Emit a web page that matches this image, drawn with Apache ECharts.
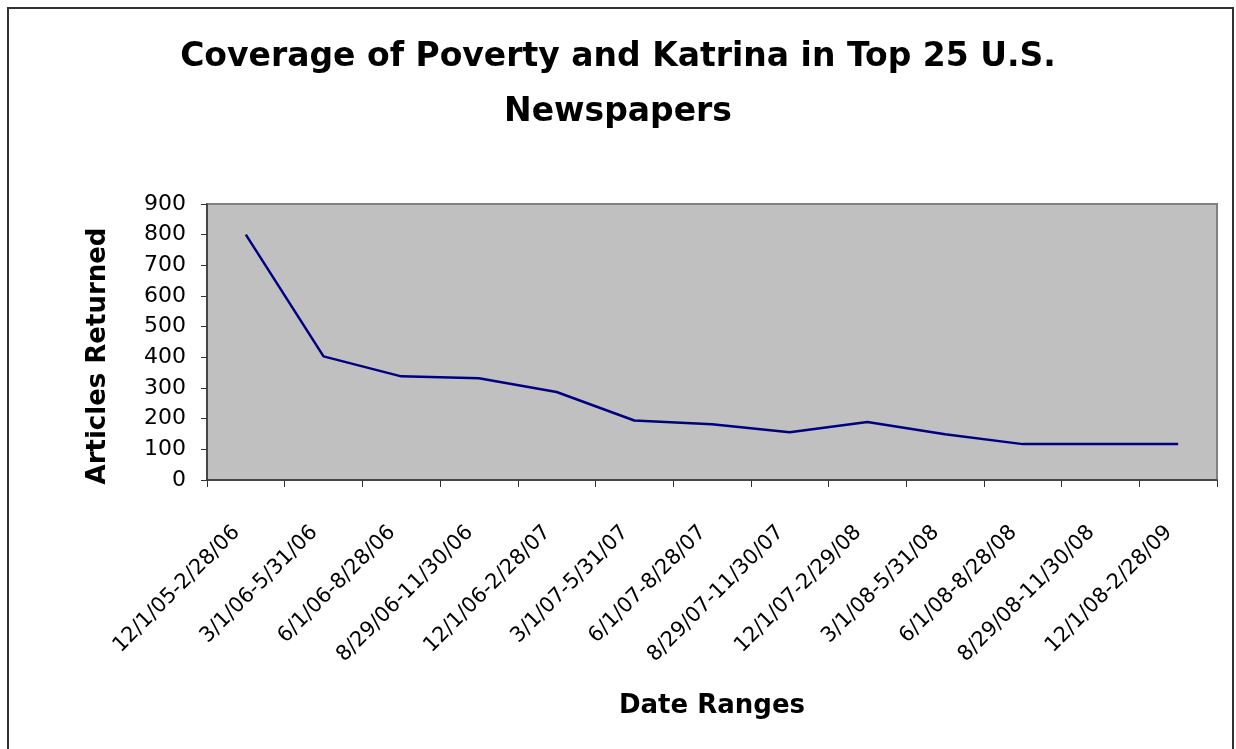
<!DOCTYPE html>
<html>
<head>
<meta charset="utf-8">
<script src="https://cdn.jsdelivr.net/npm/echarts@6/dist/echarts.min.js"></script>
<style>
html,body{margin:0;padding:0;background:#fff;}
#chart{width:1236px;height:749px;}
</style>
</head>
<body>
<div id="chart"></div>
<script>
const titleText = 'Coverage of Poverty and Katrina in Top 25 U.S.\nNewspapers';
const categories = ['12/1/05-2/28/06','3/1/06-5/31/06','6/1/06-8/28/06','8/29/06-11/30/06','12/1/06-2/28/07','3/1/07-5/31/07','6/1/07-8/28/07','8/29/07-11/30/07','12/1/07-2/29/08','3/1/08-5/31/08','6/1/08-8/28/08','8/29/08-11/30/08','12/1/08-2/28/09'];
const articles = [800, 403, 338, 332, 287, 194, 182, 156, 189, 149, 117, 117, 117];
const yAxisName = 'Articles Returned';
const xAxisName = 'Date Ranges';

const chart = echarts.init(document.getElementById('chart'), null, {renderer:'canvas'});
const FONT = 'DejaVu Sans';
chart.setOption({
  animation:false,
  backgroundColor:'#fff',
  title:{
    text:titleText,
    left:'center',
    top:25,
    textStyle:{fontFamily:FONT,fontWeight:'bold',fontSize:33,lineHeight:55,color:'#000'}
  },
  graphic:[{
    type:'rect',
    shape:{x:8,y:8,width:1225,height:760},
    style:{fill:'none',stroke:'#333',lineWidth:2},
    silent:true
  }],
  grid:{
    left:207,right:19,top:204,bottom:269,
    show:true,backgroundColor:'#C0C0C0',borderColor:'#808080',borderWidth:2
  },
  xAxis:{
    type:'category',
    data:categories,
    boundaryGap:true,
    name:xAxisName,
    nameLocation:'middle',
    nameGap:213,
    nameTextStyle:{fontFamily:FONT,fontWeight:'bold',fontSize:26,color:'#000'},
    axisLine:{lineStyle:{color:'#333',width:1.5}},
    axisTick:{show:true,length:7,inside:false,alignWithLabel:false,lineStyle:{color:'#333'}},
    axisLabel:{rotate:45,interval:0,margin:40,padding:[0,13,0,0],fontFamily:FONT,fontSize:21,color:'#000'},
    splitLine:{show:false}
  },
  yAxis:{
    type:'value',
    min:0,max:900,interval:100,
    name:yAxisName,
    nameLocation:'middle',
    nameRotate:90,
    nameGap:96,
    nameTextStyle:{fontFamily:FONT,fontWeight:'bold',fontSize:26,color:'#000',padding:[0,28,0,0]},
    axisLine:{show:true,lineStyle:{color:'#333',width:1.5}},
    axisTick:{show:true,length:6,inside:false,lineStyle:{color:'#333'}},
    axisLabel:{margin:21,fontFamily:FONT,fontSize:22,color:'#000'},
    splitLine:{show:false}
  },
  series:[{
    type:'line',
    data:articles,
    symbol:'none',
    lineStyle:{color:'#000080',width:2.5},
    itemStyle:{color:'#000080'}
  }]
});
</script>
</body>
</html>
